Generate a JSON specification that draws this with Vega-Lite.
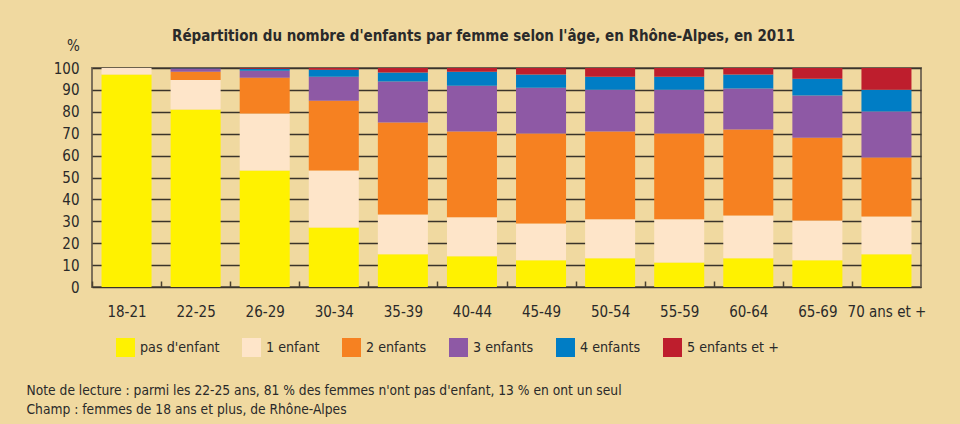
{
  "$schema": "https://vega.github.io/schema/vega-lite/v6.json",
  "width": 829,
  "height": 219,
  "autosize": {"type": "none"},
  "padding": {"left": 92, "top": 68, "right": 39, "bottom": 137},
  "background": "#F0D9A0",
  "title": {
    "text": "Répartition du nombre d'enfants par femme selon l'âge, en Rhône-Alpes, en 2011",
    "anchor": "middle",
    "dx": -23,
    "dy": 16,
    "offset": 10,
    "font": "DejaVu Sans Condensed, sans-serif",
    "fontSize": 15,
    "fontWeight": "bold",
    "color": "#2a2a2a"
  },
  "data": {
    "values": [
      {"age": "18-21", "cat": "pas d'enfant", "ord": 1, "val": 97},
      {"age": "18-21", "cat": "1 enfant", "ord": 2, "val": 3},
      {"age": "22-25", "cat": "pas d'enfant", "ord": 1, "val": 81},
      {"age": "22-25", "cat": "1 enfant", "ord": 2, "val": 13.5},
      {"age": "22-25", "cat": "2 enfants", "ord": 3, "val": 3.8},
      {"age": "22-25", "cat": "3 enfants", "ord": 4, "val": 1.4},
      {"age": "22-25", "cat": "4 enfants", "ord": 5, "val": 0.2},
      {"age": "22-25", "cat": "5 enfants et +", "ord": 6, "val": 0.1},
      {"age": "26-29", "cat": "pas d'enfant", "ord": 1, "val": 53.2},
      {"age": "26-29", "cat": "1 enfant", "ord": 2, "val": 26},
      {"age": "26-29", "cat": "2 enfants", "ord": 3, "val": 16.4},
      {"age": "26-29", "cat": "3 enfants", "ord": 4, "val": 3.2},
      {"age": "26-29", "cat": "4 enfants", "ord": 5, "val": 0.9},
      {"age": "26-29", "cat": "5 enfants et +", "ord": 6, "val": 0.3},
      {"age": "30-34", "cat": "pas d'enfant", "ord": 1, "val": 27.2},
      {"age": "30-34", "cat": "1 enfant", "ord": 2, "val": 26},
      {"age": "30-34", "cat": "2 enfants", "ord": 3, "val": 31.9},
      {"age": "30-34", "cat": "3 enfants", "ord": 4, "val": 10.9},
      {"age": "30-34", "cat": "4 enfants", "ord": 5, "val": 3.2},
      {"age": "30-34", "cat": "5 enfants et +", "ord": 6, "val": 0.8},
      {"age": "35-39", "cat": "pas d'enfant", "ord": 1, "val": 14.9},
      {"age": "35-39", "cat": "1 enfant", "ord": 2, "val": 18.2},
      {"age": "35-39", "cat": "2 enfants", "ord": 3, "val": 42},
      {"age": "35-39", "cat": "3 enfants", "ord": 4, "val": 18.7},
      {"age": "35-39", "cat": "4 enfants", "ord": 5, "val": 4.1},
      {"age": "35-39", "cat": "5 enfants et +", "ord": 6, "val": 2.1},
      {"age": "40-44", "cat": "pas d'enfant", "ord": 1, "val": 14},
      {"age": "40-44", "cat": "1 enfant", "ord": 2, "val": 17.8},
      {"age": "40-44", "cat": "2 enfants", "ord": 3, "val": 39.2},
      {"age": "40-44", "cat": "3 enfants", "ord": 4, "val": 20.9},
      {"age": "40-44", "cat": "4 enfants", "ord": 5, "val": 6.4},
      {"age": "40-44", "cat": "5 enfants et +", "ord": 6, "val": 1.7},
      {"age": "45-49", "cat": "pas d'enfant", "ord": 1, "val": 12.2},
      {"age": "45-49", "cat": "1 enfant", "ord": 2, "val": 16.8},
      {"age": "45-49", "cat": "2 enfants", "ord": 3, "val": 41.1},
      {"age": "45-49", "cat": "3 enfants", "ord": 4, "val": 20.9},
      {"age": "45-49", "cat": "4 enfants", "ord": 5, "val": 6},
      {"age": "45-49", "cat": "5 enfants et +", "ord": 6, "val": 3},
      {"age": "50-54", "cat": "pas d'enfant", "ord": 1, "val": 13.1},
      {"age": "50-54", "cat": "1 enfant", "ord": 2, "val": 17.8},
      {"age": "50-54", "cat": "2 enfants", "ord": 3, "val": 40.1},
      {"age": "50-54", "cat": "3 enfants", "ord": 4, "val": 19.1},
      {"age": "50-54", "cat": "4 enfants", "ord": 5, "val": 5.9},
      {"age": "50-54", "cat": "5 enfants et +", "ord": 6, "val": 4},
      {"age": "55-59", "cat": "pas d'enfant", "ord": 1, "val": 11.2},
      {"age": "55-59", "cat": "1 enfant", "ord": 2, "val": 19.7},
      {"age": "55-59", "cat": "2 enfants", "ord": 3, "val": 39.2},
      {"age": "55-59", "cat": "3 enfants", "ord": 4, "val": 20},
      {"age": "55-59", "cat": "4 enfants", "ord": 5, "val": 5.9},
      {"age": "55-59", "cat": "5 enfants et +", "ord": 6, "val": 4},
      {"age": "60-64", "cat": "pas d'enfant", "ord": 1, "val": 13.1},
      {"age": "60-64", "cat": "1 enfant", "ord": 2, "val": 19.6},
      {"age": "60-64", "cat": "2 enfants", "ord": 3, "val": 39.2},
      {"age": "60-64", "cat": "3 enfants", "ord": 4, "val": 18.7},
      {"age": "60-64", "cat": "4 enfants", "ord": 5, "val": 6.4},
      {"age": "60-64", "cat": "5 enfants et +", "ord": 6, "val": 3},
      {"age": "65-69", "cat": "pas d'enfant", "ord": 1, "val": 12.2},
      {"age": "65-69", "cat": "1 enfant", "ord": 2, "val": 18.2},
      {"age": "65-69", "cat": "2 enfants", "ord": 3, "val": 37.8},
      {"age": "65-69", "cat": "3 enfants", "ord": 4, "val": 19.2},
      {"age": "65-69", "cat": "4 enfants", "ord": 5, "val": 7.7},
      {"age": "65-69", "cat": "5 enfants et +", "ord": 6, "val": 4.9},
      {"age": "70 ans et +", "cat": "pas d'enfant", "ord": 1, "val": 14.9},
      {"age": "70 ans et +", "cat": "1 enfant", "ord": 2, "val": 17.3},
      {"age": "70 ans et +", "cat": "2 enfants", "ord": 3, "val": 26.9},
      {"age": "70 ans et +", "cat": "3 enfants", "ord": 4, "val": 21},
      {"age": "70 ans et +", "cat": "4 enfants", "ord": 5, "val": 10},
      {"age": "70 ans et +", "cat": "5 enfants et +", "ord": 6, "val": 9.9}
    ]
  },
  "mark": {"type": "bar"},
  "encoding": {
    "x": {
      "field": "age",
      "type": "nominal",
      "sort": ["18-21", "22-25", "26-29", "30-34", "35-39", "40-44", "45-49", "50-54", "55-59", "60-64", "65-69", "70 ans et +"],
      "scale": {"paddingInner": 0.276, "paddingOuter": 0.138},
      "axis": {
        "title": ["Note de lecture : parmi les 22-25 ans, 81 % des femmes n'ont pas d'enfant, 13 % en ont un seul", "Champ : femmes de 18 ans et plus, de Rhône-Alpes"],
        "titleX": -66,
        "titleY": 107,
        "titleAlign": "left",
        "titleAnchor": "start",
        "titleBaseline": "alphabetic",
        "titleLineHeight": 19,
        "titleFontSize": 13.7,
        "titleFontWeight": "normal",
        "titleColor": "#2a2a2a",
        "titleFont": "DejaVu Sans Condensed, sans-serif",
        "labelAngle": 0,
        "labelFontSize": 15,
        "labelColor": "#2a2a2a",
        "labelFont": "DejaVu Sans Condensed, sans-serif",
        "labelPadding": 23,
        "labelBaseline": "top",
        "tickOffset": -34.54,
        "labelOffset": 34.54,
        "ticks": true,
        "tickSize": -6,
        "tickWidth": 1.5,
        "tickColor": "#4a4030",
        "domain": false,
        "grid": false
      }
    },
    "y": {
      "field": "val",
      "type": "quantitative",
      "stack": "zero",
      "scale": {"domain": [0, 100], "nice": false},
      "axis": {
        "values": [0, 10, 20, 30, 40, 50, 60, 70, 80, 90, 100],
        "title": "%",
        "titleAngle": 0,
        "titleX": -19,
        "titleY": -18,
        "titleAlign": "center",
        "titleBaseline": "alphabetic",
        "titleFontSize": 15,
        "titleFontWeight": "normal",
        "titleColor": "#2a2a2a",
        "titleFont": "DejaVu Sans Condensed, sans-serif",
        "labelFontSize": 15,
        "labelColor": "#2a2a2a",
        "labelFont": "DejaVu Sans Condensed, sans-serif",
        "labelPadding": 13,
        "ticks": false,
        "domain": false,
        "grid": true,
        "gridColor": "#3a342a",
        "gridWidth": 1.5
      }
    },
    "color": {
      "field": "cat",
      "type": "nominal",
      "scale": {
        "domain": ["pas d'enfant", "1 enfant", "2 enfants", "3 enfants", "4 enfants", "5 enfants et +"],
        "range": ["#FFF200", "#FEE5C9", "#F68121", "#8E59A5", "#007DC5", "#BE1E2D"]
      },
      "legend": {
        "title": null,
        "orient": "none",
        "legendX": 24,
        "legendY": 270,
        "direction": "horizontal",
        "columns": 6,
        "symbolType": "square",
        "symbolSize": 361,
        "symbolStrokeWidth": 0,
        "labelFontSize": 14.2,
        "labelColor": "#2a2a2a",
        "labelFont": "DejaVu Sans Condensed, sans-serif",
        "labelOffset": 5,
        "columnPadding": 22
      }
    },
    "order": {"field": "ord", "type": "quantitative"}
  },
  "config": {
    "view": {"stroke": "#7d705a", "strokeWidth": 2}
  }
}
